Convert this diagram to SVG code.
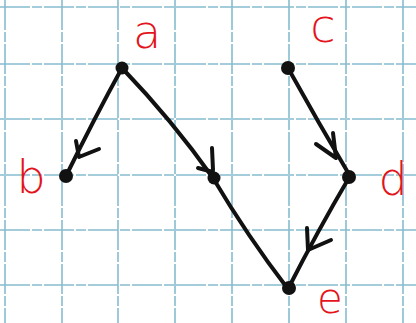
<svg xmlns="http://www.w3.org/2000/svg" width="416" height="323" viewBox="0 0 416 323">
<style>
.grid line{stroke:#86bccf;stroke-width:1.6;stroke-dasharray:30 2 10 2}
.edge{fill:none;stroke:#111;stroke-width:4;stroke-linecap:round;stroke-linejoin:round}
.node circle{fill:#111}
.lbl{font-family:"DejaVu Sans","Liberation Sans",sans-serif;font-weight:200;font-size:46px;fill:#e3141c;text-anchor:middle}
</style>
<rect width="416" height="323" fill="#fff"/>
<g class="grid">
<line x1="5" y1="0" x2="5" y2="323"/><line x1="62" y1="0" x2="62" y2="323"/><line x1="118" y1="0" x2="118" y2="323"/><line x1="175" y1="0" x2="175" y2="323"/><line x1="232" y1="0" x2="232" y2="323"/><line x1="289" y1="0" x2="289" y2="323"/><line x1="346" y1="0" x2="346" y2="323"/><line x1="403" y1="0" x2="403" y2="323"/>
<line x1="0" y1="7" x2="416" y2="7"/><line x1="0" y1="64" x2="416" y2="64"/><line x1="0" y1="119" x2="416" y2="119"/><line x1="0" y1="175" x2="416" y2="175"/><line x1="0" y1="230" x2="416" y2="230"/><line x1="0" y1="285" x2="416" y2="285"/>
</g>
<g id="connectors">
<path class="edge" d="M122,68 Q95,117 66,176"/>
<path class="edge" d="M76,141 L79,157 L99,149"/>
<path class="edge" d="M122,68 Q172,120 213,178"/>
<path class="edge" d="M212,148 L213,170 M198,168 L213,172"/>
<path class="edge" d="M213,178 Q248,237 288,289"/>
<path class="edge" d="M288,68 Q318,122 350,176"/>
<path class="edge" d="M333,133 L336,158 M316,144 L336,158"/>
<path class="edge" d="M350,176 Q317,232 288,289"/>
<path class="edge" d="M307,228 L308,250 L331,240"/>
</g>
<g id="node-a" class="node"><circle cx="122" cy="68" r="6.5"/><text class="lbl" x="147" y="48">a</text></g>
<g id="node-b" class="node"><circle cx="66" cy="176" r="7"/><text class="lbl" x="31" y="193">b</text></g>
<g id="node-m" class="node"><circle cx="214" cy="178" r="6.5"/></g>
<g id="node-c" class="node"><circle cx="288" cy="68" r="7"/><text class="lbl" x="323" y="42">c</text></g>
<g id="node-d" class="node"><circle cx="349" cy="177" r="7"/><text class="lbl" x="393" y="195">d</text></g>
<g id="node-e" class="node"><circle cx="289" cy="288" r="7"/><text class="lbl" x="330" y="313" style="font-size:42px">e</text></g>
</svg>
